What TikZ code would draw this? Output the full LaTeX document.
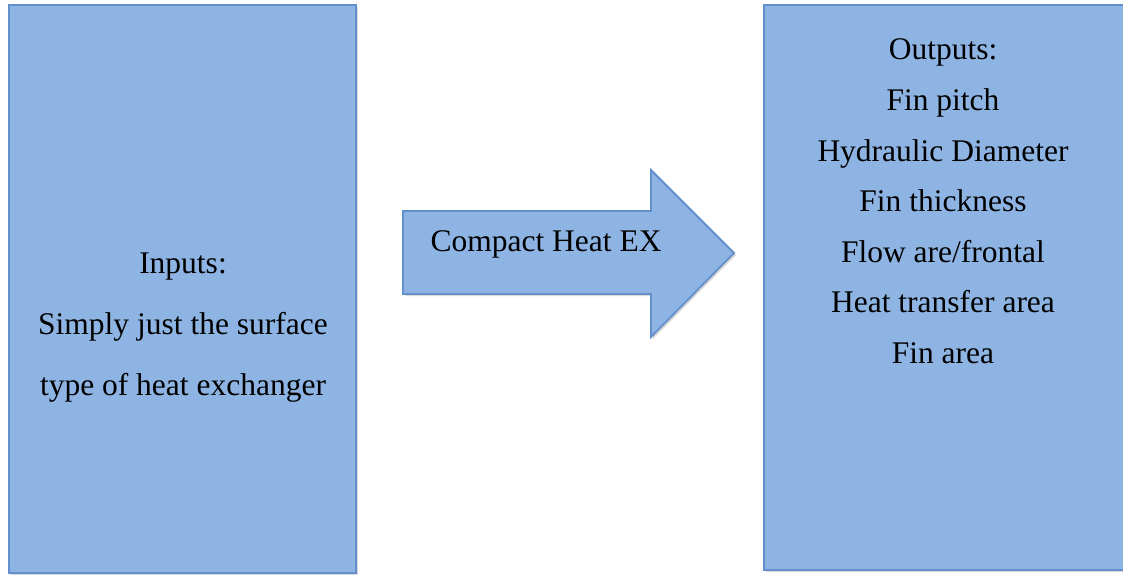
\documentclass[tikz,border=0pt]{standalone}
\usepackage{fontspec}
\setmainfont{Liberation Serif}
\usetikzlibrary{shadows}
\definecolor{boxfill}{HTML}{8EB4E3}
\definecolor{boxline}{HTML}{6390CC}
\tikzset{
  block/.style={draw=boxline,line width=1.8pt,fill=boxfill,
    drop shadow={shadow xshift=2pt,shadow yshift=-2pt,opacity=0.3}},
  label text/.style={inner sep=0pt,anchor=base,
    font=\fontsize{31.5}{38}\selectfont}
}
\begin{document}
\begin{tikzpicture}[x=1pt,y=-1pt]
\clip (0,0) rectangle (1123,575);
\fill[white] (0,0) rectangle (1123,575);
% left box
\draw[block] (9,5) rectangle (356,573);
\coordinate (inputs) at (183,273);
\node[label text] (in1) at (inputs) {Inputs:};
\node[label text] (in2) at (inputs) [yshift=-61pt] {Simply just the surface};
\node[label text] (in3) at (inputs) [yshift=-122pt] {type of heat exchanger};
% arrow
\draw[block] (403,211) -- (651,211) -- (651,170) -- (734,253) -- (651,337) -- (651,294) -- (403,294) -- cycle;
\node[label text] (arrowtext) at (546,251) {Compact Heat EX};
% right box
\draw[block] (764,5) rectangle (1140,570);
\foreach \txt [count=\i from 0] in {Outputs:,Fin pitch,Hydraulic Diameter,Fin thickness,Flow are/frontal,Heat transfer area,Fin area}
  \node[label text] (out\i) at (943,60+50.5*\i) {\txt};
\end{tikzpicture}
\end{document}
